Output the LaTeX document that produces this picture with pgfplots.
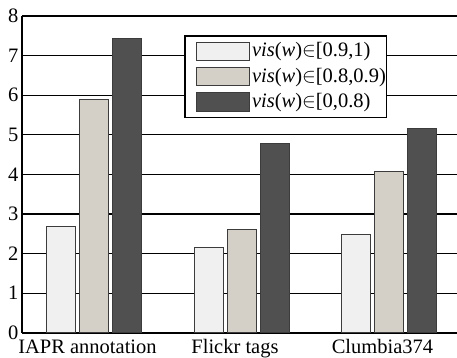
\documentclass[border=0pt]{standalone}
\usepackage{fontspec}
\setmainfont{Liberation Serif}
\usepackage{pgfplots}
\pgfplotsset{compat=1.18}
\definecolor{barlight}{RGB}{240,240,240}
\definecolor{barbeige}{RGB}{212,208,200}
\definecolor{bardark}{RGB}{80,80,80}
\definecolor{baredge}{RGB}{60,60,60}
\begin{document}
\begin{tikzpicture}
\path[use as bounding box] (-22bp,-25.3bp) rectangle (435bp,332.7bp);
\begin{axis}[
  at={(0,0)}, anchor=south west,
  scale only axis, width=435bp, height=316.7bp,
  ybar=4bp, bar width=29bp,
  xmin=-0.4915, xmax=2.458, ymin=0, ymax=8,
  xtick={0,1,2}, xticklabels={IAPR annotation, Flickr tags, Clumbia374},
  ytick={0,1,...,8},
  major tick length=0pt,
  ymajorgrids, grid style={black, line width=1.2bp},
  axis x line=box, axis y line*=left,
  axis line style={-, black, line width=1.8bp},
  tick label style={font=\fontsize{20.5bp}{24bp}\selectfont},
  /pgf/number format/assume math mode=true,
  yticklabel style={inner xsep=3.5bp},
  xticklabel style={inner ysep=0pt, text height=14bp, yshift=-6.3bp, xshift=-7bp},
  legend image code/.code={\path (0bp,0bp); \draw[#1] (10bp,-9.35bp) rectangle (63bp,9.35bp);},
  legend cell align=left,
  legend style={at={(0.3731,0.94)}, anchor=north west, draw=black, line width=1.5bp, fill=white,
    inner xsep=0.5bp, inner ysep=5.8bp, row sep=5.5bp,
    nodes={inner sep=0pt, text height=15.2bp, text depth=4.2bp, font=\fontsize{20.5bp}{24bp}\selectfont},
    /tikz/every odd column/.append style={column sep=2.5bp}},
]
\addplot[fill=barlight, draw=baredge, line width=1bp] coordinates {(0,2.69) (1,2.15) (2,2.49)};
\addplot[fill=barbeige, draw=baredge, line width=1bp] coordinates {(0,5.88) (1,2.61) (2,4.07)};
\addplot[fill=bardark, draw=baredge, line width=1bp] coordinates {(0,7.42) (1,4.78) (2,5.16)};
\legend{{\textit{vis}(\textit{w})$\in$[0.9,1)}, {\textit{vis}(\textit{w})$\in$[0.8,0.9)}, {\textit{vis}(\textit{w})$\in$[0,0.8)}}
\end{axis}
\end{tikzpicture}
\end{document}
